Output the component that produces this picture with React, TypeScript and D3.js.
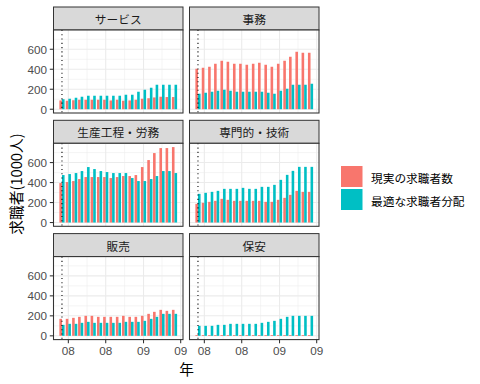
import React from "react";
import * as d3 from "d3";

// monthly observations, Dec 2007 .. Jun 2009
const months = [
  "2007-12", "2008-01", "2008-02", "2008-03", "2008-04", "2008-05", "2008-06",
  "2008-07", "2008-08", "2008-09", "2008-10", "2008-11", "2008-12", "2009-01",
  "2009-02", "2009-03", "2009-04", "2009-05", "2009-06",
];

const panelTitles = ["サービス", "事務", "生産工程・労務", "専門的・技術", "販売", "保安"];

const actualService = [88, 85, 90, 95, 95, 95, 95, 95, 88, 95, 85, 88, 95, 105, 110, 118, 125, 122, 122];
const optimalService = [100, 105, 115, 125, 135, 135, 135, 135, 135, 135, 145, 145, 175, 195, 215, 245, 245, 245, 245];

const actualOffice = [405, 415, 425, 455, 485, 475, 455, 455, 445, 455, 465, 445, 425, 455, 485, 525, 575, 565, 565];
const optimalOffice = [155, 165, 175, 185, 195, 185, 175, 175, 175, 175, 175, 165, 155, 185, 205, 245, 245, 245, 255];

const actualProduction = [395, 405, 415, 435, 455, 455, 455, 455, 445, 455, 465, 465, 475, 555, 625, 695, 745, 745, 755];
const optimalProduction = [475, 485, 495, 515, 555, 535, 515, 505, 495, 495, 495, 445, 415, 415, 435, 465, 515, 515, 495];

const actualProfessional = [187, 197, 207, 217, 237, 227, 217, 217, 217, 217, 217, 207, 207, 227, 247, 277, 317, 307, 307];
const optimalProfessional = [287, 297, 307, 317, 337, 337, 337, 347, 337, 337, 357, 357, 377, 427, 477, 517, 557, 557, 557];

const actualSales = [170, 170, 180, 190, 200, 200, 190, 190, 190, 190, 200, 190, 190, 200, 220, 240, 260, 250, 260];
const optimalSales = [110, 120, 120, 130, 140, 130, 130, 130, 130, 130, 140, 140, 140, 150, 170, 190, 220, 220, 220];

const actualSecurity = [8, 8, 8, 8, 8, 8, 8, 8, 8, 8, 8, 8, 8, 8, 8, 8, 8, 8, 8];
const optimalSecurity = [100, 100, 100, 110, 110, 120, 120, 120, 120, 120, 130, 140, 150, 170, 190, 200, 200, 200, 200];

const actualByPanel = [actualService, actualOffice, actualProduction, actualProfessional, actualSales, actualSecurity];
const optimalByPanel = [optimalService, optimalOffice, optimalProduction, optimalProfessional, optimalSales, optimalSecurity];

const seriesNames = ["現実の求職者数", "最適な求職者分配"];
const seriesColors = ["#F8766D", "#00BFC4"];

const yTicks = [0, 200, 400, 600];
const yMinor = [100, 300, 500, 700];
const xTicks = ["2008-01", "2008-07", "2009-01", "2009-07"];
const xTickLabels = ["08", "08", "09", "09"];
const xMinor = ["2008-04", "2008-10", "2009-04"];
const markerMonth = "2007-12";

const DAY = 86400000;
const toDate = (s: string) => {
  const [y, m] = s.split("-").map(Number);
  return new Date(Date.UTC(y, m - 1, 1));
};

const W = 480;
const H = 384;
const colLeft = [53.5, 189.5];
const panelW = 129.5;
const stripTop0 = 7;
const stripH = 23;
const panelH = 83;
const rowStep = 113.3;

const numFont = "'Liberation Sans', Arial, 'Noto Sans CJK JP', sans-serif";
const jpFont = "'Noto Sans CJK JP', 'Noto Sans', sans-serif";

export default function App() {
  const dates = months.map(toDate);
  const halfBar = 0.45 * 28 * DAY;
  const pad = 0.05 * (+dates[dates.length - 1] - +dates[0] + 2 * halfBar) + halfBar;

  const x = d3
    .scaleUtc()
    .domain([new Date(+dates[0] - pad), new Date(+dates[dates.length - 1] + pad)])
    .range([0, panelW]);

  const maxVal = d3.max(actualByPanel.concat(optimalByPanel).flat()) as number;
  const y = d3
    .scaleLinear()
    .domain([-0.05 * maxVal, maxVal * 1.05])
    .range([panelH, 0]);

  const grid = "#EBEBEB";
  const border = "#333333";

  return (
    <svg
      width={W}
      height={H}
      style={{ position: "absolute", left: 0, top: 0, background: "#fff" }}
    >
      <rect width={W} height={H} fill="#fff" />
      {panelTitles.map((title, i) => {
        const col = i % 2;
        const row = Math.floor(i / 2);
        const left = colLeft[col];
        const stripTop = stripTop0 + row * rowStep;
        const top = stripTop + stripH;
        const actual = actualByPanel[i];
        const optimal = optimalByPanel[i];
        return (
          <g key={title}>
            <rect x={left} y={stripTop} width={panelW} height={stripH} fill="#D9D9D9" stroke={border} strokeWidth={1} />
            <text
              x={left + panelW / 2}
              y={stripTop + stripH / 2}
              textAnchor="middle"
              dominantBaseline="central"
              fontFamily={jpFont}
              fontSize={11.7}
              fill="#1A1A1A"
            >
              {title}
            </text>
            <g transform={`translate(${left},${top})`}>
              <rect width={panelW} height={panelH} fill="#fff" />
              {yMinor.map((v) => (
                <line key={"ym" + v} x1={0} x2={panelW} y1={y(v)} y2={y(v)} stroke={grid} strokeWidth={0.55} />
              ))}
              {xMinor.map((d) => (
                <line key={"xm" + d} x1={x(toDate(d))} x2={x(toDate(d))} y1={0} y2={panelH} stroke={grid} strokeWidth={0.55} />
              ))}
              {yTicks.map((v) => (
                <line key={"yg" + v} x1={0} x2={panelW} y1={y(v)} y2={y(v)} stroke={grid} strokeWidth={1.07} />
              ))}
              {xTicks.map((d) => (
                <line key={"xg" + d} x1={x(toDate(d))} x2={x(toDate(d))} y1={0} y2={panelH} stroke={grid} strokeWidth={1.07} />
              ))}
              {dates.map((d, j) => (
                <g key={"b" + j}>
                  <rect
                    x={x(new Date(+d - halfBar))}
                    width={x(d) - x(new Date(+d - halfBar))}
                    y={y(actual[j])}
                    height={y(0) - y(actual[j])}
                    fill={seriesColors[0]}
                  />
                  <rect
                    x={x(d)}
                    width={x(new Date(+d + halfBar)) - x(d)}
                    y={y(optimal[j])}
                    height={y(0) - y(optimal[j])}
                    fill={seriesColors[1]}
                  />
                </g>
              ))}
              <line
                x1={x(toDate(markerMonth))}
                x2={x(toDate(markerMonth))}
                y1={0}
                y2={panelH}
                stroke="#000"
                strokeWidth={1.07}
                strokeDasharray="1.07,3.2"
              />
              <rect width={panelW} height={panelH} fill="none" stroke={border} strokeWidth={1.07} />
              {col === 0 &&
                yTicks.map((v) => (
                  <g key={"yt" + v}>
                    <line x1={-3.7} x2={0} y1={y(v)} y2={y(v)} stroke={border} strokeWidth={1.07} />
                    <text
                      x={-6.6}
                      y={y(v)}
                      textAnchor="end"
                      dominantBaseline="central"
                      fontFamily={numFont}
                      fontSize={11.7}
                      fill="#4D4D4D"
                    >
                      {v}
                    </text>
                  </g>
                ))}
              {row === 2 &&
                xTicks.map((d, k) => (
                  <g key={"xt" + d}>
                    <line x1={x(toDate(d))} x2={x(toDate(d))} y1={panelH} y2={panelH + 3.7} stroke={border} strokeWidth={1.07} />
                    <text
                      x={x(toDate(d))}
                      y={panelH + 6.6}
                      textAnchor="middle"
                      dominantBaseline="hanging"
                      fontFamily={numFont}
                      fontSize={11.7}
                      fill="#4D4D4D"
                    >
                      {xTickLabels[k]}
                    </text>
                  </g>
                ))}
            </g>
          </g>
        );
      })}
      <text
        x={186.5}
        y={368}
        textAnchor="middle"
        dominantBaseline="central"
        fontFamily={jpFont}
        fontSize={14.7}
        fill="#000"
      >
        年
      </text>
      <text
        transform="translate(15,184) rotate(-90)"
        textAnchor="middle"
        dominantBaseline="central"
        fontFamily={jpFont}
        fontSize={14.7}
        fill="#000"
      >
        求職者(1000人)
      </text>
      {seriesNames.map((name, k) => (
        <g key={name} transform={`translate(341,${166 + k * 23})`}>
          <rect width={21.5} height={21} fill={seriesColors[k]} />
          <text
            x={30}
            y={11.5}
            dominantBaseline="central"
            fontFamily={jpFont}
            fontSize={11.7}
            fill="#000"
          >
            {name}
          </text>
        </g>
      ))}
    </svg>
  );
}
